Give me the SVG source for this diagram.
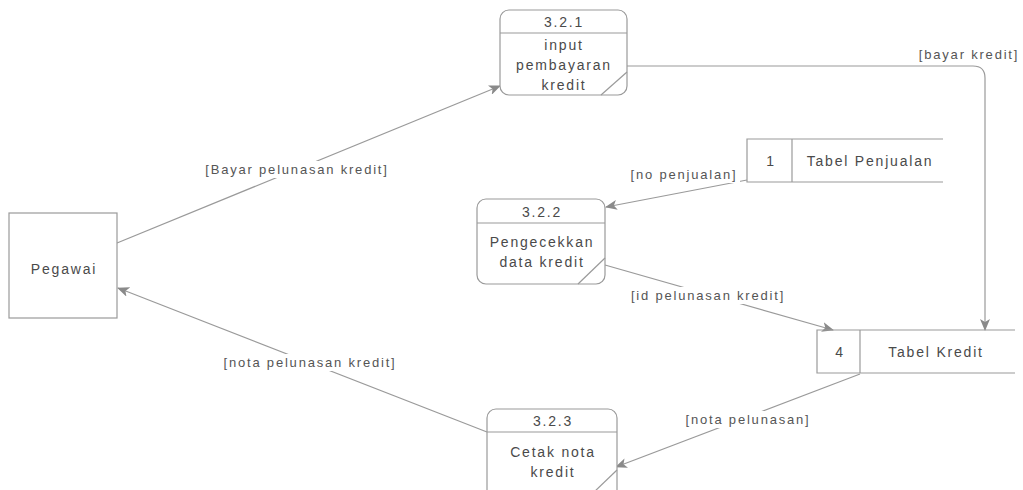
<svg xmlns="http://www.w3.org/2000/svg" width="1023" height="490" viewBox="0 0 1023 490">
  <defs>
    <marker id="arrow" viewBox="0 0 12 10" refX="11" refY="5" markerWidth="12" markerHeight="10" markerUnits="userSpaceOnUse" orient="auto">
      <path d="M0,0 L12,5 L0,10 L3,5 Z" fill="#8a8a8a"/>
    </marker>
    <style>
      .box { fill: #ffffff; stroke: #9a9a9a; stroke-width: 1.2; }
      .sep { stroke: #9a9a9a; stroke-width: 1.2; fill: none; }
      .flow { stroke: #9a9a9a; stroke-width: 1.2; fill: none; marker-end: url(#arrow); }
      .t { font-family: "Liberation Sans", Arial, sans-serif; font-size: 14px; letter-spacing: 1.8px; fill: #4a4a4a; text-anchor: middle; }
      .lbl { font-family: "Liberation Sans", Arial, sans-serif; font-size: 13px; letter-spacing: 1.8px; fill: #555555; text-anchor: middle; }
      .bg { fill: #ffffff; }
    </style>
  </defs>
  <rect width="1023" height="490" fill="#ffffff"/>

  <!-- connectors -->
  <g id="connectors">
    <path class="flow" d="M117,243 L500,86"/>
    <path class="flow" d="M627,66 L973,66 Q985,66 985,78 L985,330"/>
    <path class="flow" d="M747,180 L606,207"/>
    <path class="flow" d="M605,265 L833,330"/>
    <path class="flow" d="M860,374 L616,467"/>
    <path class="flow" d="M487,432 L118,288"/>

    <rect class="bg" x="202" y="161" width="188" height="17"/>
    <text class="lbl" x="297" y="174">[Bayar pelunasan kredit]</text>
    <rect class="bg" x="918" y="46" width="102" height="17"/>
    <text class="lbl" x="969" y="59">[bayar kredit]</text>
    <rect class="bg" x="626" y="166" width="114" height="17"/>
    <text class="lbl" x="684" y="179">[no penjualan]</text>
    <rect class="bg" x="630" y="287" width="156" height="17"/>
    <text class="lbl" x="708" y="300">[id pelunasan kredit]</text>
    <rect class="bg" x="682" y="411" width="130" height="17"/>
    <text class="lbl" x="748" y="424">[nota pelunasan]</text>
    <rect class="bg" x="222" y="354" width="174" height="17"/>
    <text class="lbl" x="310" y="367">[nota pelunasan kredit]</text>
  </g>

  <!-- external entity -->
  <g id="pegawai">
    <rect class="box" x="9" y="213" width="108" height="105"/>
    <text class="t" x="64" y="274">Pegawai</text>
  </g>

  <!-- processes -->
  <g id="p321">
    <rect class="box" x="500" y="10" width="127" height="85" rx="9" ry="9"/>
    <line class="sep" x1="500" y1="33" x2="627" y2="33"/>
    <line class="sep" x1="627" y1="72" x2="601" y2="95"/>
    <text class="t" x="564" y="27">3.2.1</text>
    <text class="t" x="564" y="50">input</text>
    <text class="t" x="564" y="70">pembayaran</text>
    <text class="t" x="564" y="90">kredit</text>
  </g>

  <g id="p322">
    <rect class="box" x="477" y="199" width="128" height="85" rx="9" ry="9"/>
    <line class="sep" x1="477" y1="223" x2="605" y2="223"/>
    <line class="sep" x1="605" y1="258" x2="578" y2="284"/>
    <text class="t" x="542" y="217">3.2.2</text>
    <text class="t" x="542" y="247">Pengecekkan</text>
    <text class="t" x="542" y="267">data kredit</text>
  </g>

  <g id="p323">
    <rect class="box" x="487" y="409" width="130" height="95" rx="9" ry="9"/>
    <line class="sep" x1="487" y1="432" x2="617" y2="432"/>
    <line class="sep" x1="617" y1="470" x2="592" y2="494"/>
    <text class="t" x="553" y="426">3.2.3</text>
    <text class="t" x="553" y="457">Cetak nota</text>
    <text class="t" x="553" y="477">kredit</text>
  </g>

  <!-- data stores -->
  <g id="ds1">
    <path class="sep" d="M943,139 L747,139 L747,182 L943,182"/>
    <line class="sep" x1="792" y1="139" x2="792" y2="182"/>
    <text class="t" x="771" y="166">1</text>
    <text class="t" x="870" y="166">Tabel Penjualan</text>
  </g>

  <g id="ds4">
    <path class="sep" d="M1015,330 L817,330 L817,373 L1015,373"/>
    <line class="sep" x1="860" y1="330" x2="860" y2="373"/>
    <text class="t" x="840" y="357">4</text>
    <text class="t" x="936" y="357">Tabel Kredit</text>
  </g>
</svg>
